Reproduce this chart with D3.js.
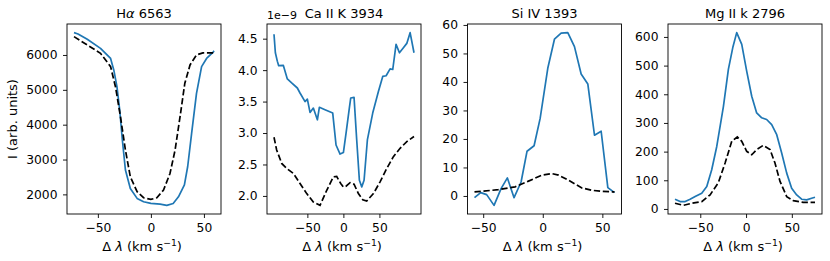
<!DOCTYPE html>
<html lang="en">
<head>
<meta charset="UTF-8">
<title>Line profiles</title>
<script src="https://d3js.org/d3.v7.min.js"></script>
<style>
    body, html { margin: 0; padding: 0; background: #fff; overflow: hidden; }
    text { font-family: "DejaVu Sans", sans-serif; fill: #000; }
</style>
</head>
<body>
<svg id="chart"></svg>
<script>
    const width = 830, height = 261;

    // panel titles
    const titles = ["H\u03b1 6563", "Ca II K 3934", "Si IV 1393", "Mg II k 2796"];

    // H alpha (observed = blue, model = dashed)
    const haObsX = [-72.5, -68.7, -60, -47.5, -38, -35, -32, -29.4, -26.9, -24, -19.4, -13, -6.9, 0, 8.7, 15, 21, 26, 31.6, 34.7, 38.4, 43, 47.8, 52.5, 58.7, 59.5];
    const haObsY = [6641, 6603, 6450, 6190, 5900, 5570, 5090, 4420, 3560, 2700, 2170, 1885, 1790, 1740, 1720, 1685, 1740, 1930, 2270, 2800, 3750, 4900, 5665, 5900, 6080, 6120];
    const haModX = [-72.5, -60, -47.5, -38, -33.4, -28.7, -24, -19.4, -13, -6.9, 0, 5.6, 11.9, 18, 22.8, 27.5, 32, 36.9, 43, 49, 58.7];
    const haModY = [6526, 6287, 6048, 5665, 5090, 4230, 3270, 2507, 2077, 1904, 1856, 1904, 2124, 2600, 3270, 4230, 5190, 5713, 6000, 6060, 6060];

    // Ca II K (values in units of 1e-9)
    const caObsX = [-96.3, -94.4, -91.7, -89.8, -83.3, -77.8, -71.8, -63.9, -60.2, -53.2, -50, -46.3, -41.7, -36.1, -33.3, -25.5, -14.8, -10.2, -4.6, 0, 3.7, 8.3, 10.2, 14.8, 18.5, 22.2, 25.5, 28.7, 33.3, 40.7, 48.6, 54.6, 59.3, 64.8, 68.5, 73.1, 77.8, 83.3, 88, 92.6, 98];
    const caObsY = [4.57, 4.276, 4.143, 4.07, 4.074, 3.86, 3.796, 3.716, 3.636, 3.50, 3.54, 3.327, 3.397, 3.21, 3.41, 3.37, 3.317, 2.81, 2.666, 2.69, 3.0, 3.4, 3.557, 3.567, 2.89, 2.25, 2.144, 2.25, 2.89, 3.317, 3.66, 3.90, 3.91, 4.02, 4.01, 4.41, 4.276, 4.356, 4.425, 4.596, 4.276];
    const caModX = [-96.3, -92.6, -85.6, -78.7, -69.4, -60.2, -50.9, -41.7, -32.4, -23.1, -13.9, -9.3, -3.7, 0, 3.7, 9.3, 14.8, 20.8, 26.9, 32.4, 41.7, 50.9, 60.2, 69.4, 78.7, 88, 98];
    const caModY = [2.933, 2.73, 2.517, 2.437, 2.357, 2.197, 2.037, 1.904, 1.85, 2.09, 2.304, 2.31, 2.197, 2.14, 2.155, 2.21, 2.186, 2.037, 1.94, 1.92, 2.037, 2.224, 2.437, 2.624, 2.757, 2.864, 2.944];

    // Si IV
    const siObsX = [-57.3, -52.1, -47.1, -40.9, -35, -29.7, -24.1, -18.2, -13.2, -7.3, -2.2, 4.2, 9.8, 15.4, 21, 26.6, 32.2, 37.8, 43.4, 49, 54.6, 60.2];
    const siObsY = [-0.6, 1.17, 0.47, -3.3, 2.58, 6.33, -0.6, 4.9, 15.7, 17.6, 27.2, 44.8, 55, 57.1, 57.3, 52.4, 42.8, 39.3, 21.3, 22.7, 2.93, 1.17];
    const siModX = [-57.3, -37.3, -23.2, -12, -0.8, 7.6, 13.2, 21.6, 32.8, 41.2, 49.6, 60.2];
    const siModY = [1.4, 2.2, 3.2, 5.2, 7.3, 7.85, 7.3, 5.5, 2.8, 2.0, 1.6, 1.4];

    // Mg II k
    const mgObsX = [-77.6, -72, -66.5, -61.1, -55.6, -48.4, -42.9, -37.5, -32, -24.7, -19.3, -14.5, -10.2, -4.7, 0.7, 6.2, 11.6, 17.1, 22.5, 28, 33.5, 38.9, 44.4, 49.8, 55.3, 60.7, 66.2, 71.6, 75.3];
    const mgObsY = [33.9, 25.7, 25.7, 33.9, 43.2, 54.9, 78.2, 136.6, 218, 358, 487, 563, 615, 574, 481, 393, 335, 318, 312, 294, 259, 195, 125, 72.4, 49, 33.9, 31.5, 37.4, 40.9];
    const mgModX = [-77.6, -68.4, -59.3, -48.4, -39.3, -30.2, -22.9, -15.6, -9.5, -4.7, 0.7, 6.2, 11.6, 18.9, 26.2, 31.6, 37.1, 44.4, 51.6, 62.5, 75.3];
    const mgModY = [19.8, 12.5, 19.8, 25.7, 49, 92, 160, 236, 251, 236, 201, 189, 207, 222, 207, 160, 96, 43, 29, 23, 23];

    const yTicks = [
        [2000, 3000, 4000, 5000, 6000],
        [2.0, 2.5, 3.0, 3.5, 4.0, 4.5],
        [0, 10, 20, 30, 40, 50, 60],
        [0, 100, 200, 300, 400, 500, 600]
    ];
    const xTicks = [-50, 0, 50];

    const series = [
        [haObsX, haObsY, haModX, haModY],
        [caObsX, caObsY, caModX, caModY],
        [siObsX, siObsY, siModX, siModY],
        [mgObsX, mgObsY, mgModX, mgModY]
    ];

    const panelLeft = [67, 267, 467.5, 668];
    const panelW = 154, panelTop = 24, panelH = 190;
    const fs = 12.3;   // tick labels
    const lfs = 13;    // axis labels

    const svg = d3.select("#chart").attr("width", width).attr("height", height);

    function padded(vals) {
        const [lo, hi] = d3.extent(vals);
        const p = (hi - lo) * 0.05;
        return [lo - p, hi + p];
    }

    series.forEach((s, i) => {
        const [ox, oy, mx, my] = s;
        const g = svg.append("g").attr("transform", `translate(${panelLeft[i]},${panelTop})`);

        const x = d3.scaleLinear().domain(padded(ox.concat(mx))).range([0, panelW]);
        const y = d3.scaleLinear().domain(padded(oy.concat(my))).range([panelH, 0]);

        const fmt = i === 1 ? d3.format(".1f") : d3.format("d");

        // y axis
        const ya = g.append("g").call(d3.axisLeft(y).tickValues(yTicks[i]).tickFormat(fmt).tickSize(4).tickPadding(5.5));
        ya.attr("font-size", fs).attr("font-family", "DejaVu Sans");
        ya.select(".domain").remove();
        ya.selectAll("line").attr("stroke-width", 0.9);

        // x axis
        const xa = g.append("g").attr("transform", `translate(0,${panelH})`)
            .call(d3.axisBottom(x).tickValues(xTicks).tickFormat(d3.format("d")).tickSize(4).tickPadding(5));
        xa.attr("font-size", fs).attr("font-family", "DejaVu Sans");
        xa.select(".domain").remove();
        xa.selectAll("line").attr("stroke-width", 0.9);

        const line = d3.line().x(d => x(d[0])).y(d => y(d[1]));

        g.append("path")
            .datum(ox.map((v, k) => [v, oy[k]]))
            .attr("d", line)
            .attr("fill", "none")
            .attr("stroke", "#1f77b4")
            .attr("stroke-width", 1.7)
            .attr("stroke-linejoin", "round");

        g.append("path")
            .datum(mx.map((v, k) => [v, my[k]]))
            .attr("d", line)
            .attr("fill", "none")
            .attr("stroke", "#000")
            .attr("stroke-width", 1.7)
            .attr("stroke-dasharray", "6.3,2.7");

        // frame
        g.append("rect")
            .attr("width", panelW).attr("height", panelH)
            .attr("fill", "none").attr("stroke", "#000").attr("stroke-width", 0.9);

        // title
        const t = g.append("text")
            .attr("x", panelW / 2).attr("y", -6)
            .attr("text-anchor", "middle")
            .style("font-size", "13px");
        if (i === 0) {
            t.append("tspan").text("H");
            t.append("tspan").style("font-style", "italic").text("\u03b1");
            t.append("tspan").text(" 6563");
        } else {
            t.text(titles[i]);
        }

        // x label
        const xl = g.append("text")
            .attr("x", panelW / 2 - 2).attr("y", panelH + 36.5)
            .attr("text-anchor", "middle")
            .style("font-size", lfs + "px");
        xl.append("tspan").text("\u0394 ");
        xl.append("tspan").style("font-style", "italic").text("\u03bb");
        xl.append("tspan").text(" (km s");
        xl.append("tspan").attr("dy", -5).style("font-size", "9.2px").text("\u22121");
        xl.append("tspan").attr("dy", 5).text(")");

        if (i === 0) {
            g.append("text")
                .attr("transform", `translate(-50,${panelH / 2}) rotate(-90)`)
                .attr("text-anchor", "middle")
                .style("font-size", lfs + "px")
                .text("I (arb. units)");
        }
        if (i === 1) {
            g.append("text")
                .attr("x", 0).attr("y", -5)
                .style("font-size", "11px")
                .text("1e\u22129");
        }
    });
</script>
</body>
</html>
